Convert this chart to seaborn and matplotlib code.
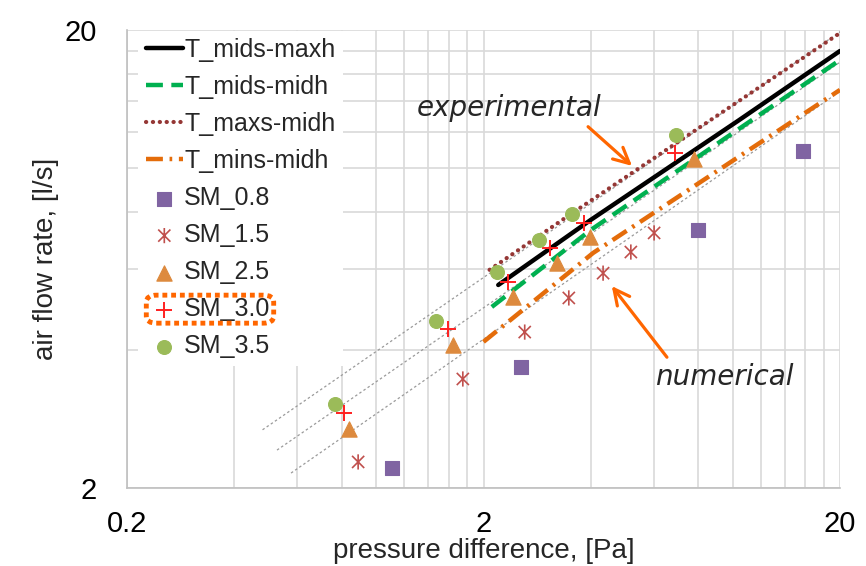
import matplotlib
matplotlib.use("Agg")
import matplotlib.pyplot as plt
import seaborn as sns
import pandas as pd
from matplotlib.path import Path
from matplotlib.markers import MarkerStyle
from matplotlib.patches import FancyBboxPatch
from matplotlib.ticker import FixedLocator, FixedFormatter, NullFormatter

# ---------------- data ----------------
t_mids_maxh_x = [2.2, 4.0, 10.4, 20.0]
t_mids_maxh_y = [5.55, 7.7, 12.7, 18.0]
t_mids_midh_x = [2.11, 4.0, 20.0]
t_mids_midh_y = [4.97, 7.32, 17.2]
t_maxs_midh_x = [2.08, 3.56, 20.0]
t_maxs_midh_y = [5.99, 7.98, 19.7]
t_mins_midh_x = [2.0, 4.06, 20.0]
t_mins_midh_y = [4.17, 6.52, 14.8]

sm08_x = [1.11, 2.55, 7.99, 15.7]
sm08_y = [2.21, 3.67, 7.32, 10.88]
sm15_x = [0.89, 1.75, 2.61, 3.47, 4.33, 5.18, 6.02]
sm15_y = [2.28, 3.46, 4.38, 5.2, 5.89, 6.55, 7.21]
sm25_x = [0.84, 1.64, 2.42, 3.21, 3.98, 7.79]
sm25_y = [2.69, 4.1, 5.22, 6.2, 7.07, 10.46]
sm30_x = [0.81, 1.59, 2.34, 3.07, 3.83, 6.9]
sm30_y = [2.92, 4.45, 5.64, 6.68, 7.58, 10.78]
sm35_x = [0.766, 1.47, 2.18, 2.86, 3.54, 6.94]
sm35_y = [3.05, 4.63, 5.92, 6.96, 7.93, 11.8]

ref1_x = [0.48, 21.3]
ref1_y = [2.68, 20.5]
ref2_x = [0.527, 21.3]
ref2_y = [2.42, 17.6]
ref3_x = [0.577, 21.3]
ref3_y = [2.156, 15.2]

x_major = [0.2, 2, 20]
x_major_labels = ["0.2", "2", "20"]
x_minor = [0.4, 0.6, 0.8, 1.0, 1.2, 1.4, 1.6, 1.8, 4, 6, 8, 10, 12, 14, 16, 18]
y_major = [2, 20]
y_major_labels = ["2", "20"]
y_minor = [4, 6, 8, 10, 12, 14, 16, 18]

# ---------------- style ----------------
sns.set_theme(style="white")
plt.rcParams["font.family"] = ["Liberation Sans", "DejaVu Sans"]

fig = plt.figure(figsize=(8.66, 5.66), dpi=100)
ax = fig.add_axes([127 / 866, 1 - 488 / 566, (840 - 127) / 866, (488 - 30) / 566])
ax.set_xscale("log")
ax.set_yscale("log")
ax.set_xlim(0.2, 20)
ax.set_ylim(2, 20)
ax.set_axisbelow(True)

# grid
grid_col = "#d9d9d9"
for v in x_minor + x_major:
    ax.axvline(v, color=grid_col, lw=1.2, zorder=0)
for v in y_minor + y_major:
    ax.axhline(v, color=grid_col, lw=1.2, zorder=0)

# reference (fit) lines
for rx, ry in [(ref1_x, ref1_y), (ref2_x, ref2_y), (ref3_x, ref3_y)]:
    sns.lineplot(x=rx, y=ry, ax=ax, color="#9a9a9a", lw=0.9,
                 linestyle=(0, (2, 2)), sort=False, estimator=None, zorder=1)

# model lines
sns.lineplot(x=t_mids_maxh_x, y=t_mids_maxh_y, ax=ax, color="black", lw=3.2,
             sort=False, estimator=None, label="T_mids-maxh", zorder=3)
sns.lineplot(x=t_mids_midh_x, y=t_mids_midh_y, ax=ax, color="#00b050", lw=3.2,
             linestyle=(0, (3.8, 1.9)), sort=False, estimator=None,
             label="T_mids-midh", zorder=3)
sns.lineplot(x=t_maxs_midh_x, y=t_maxs_midh_y, ax=ax, color="#953735", lw=3.0,
             linestyle=(0, (0.05, 1.6)), dash_capstyle="round", sort=False,
             estimator=None, label="T_maxs-midh", zorder=3)
sns.lineplot(x=t_mins_midh_x, y=t_mins_midh_y, ax=ax, color="#e46c0a", lw=3.2,
             linestyle=(0, (3.8, 1.5, 0.6, 1.5)), sort=False, estimator=None,
             label="T_mins-midh", zorder=3)

# markers
star_path = Path([(-1, -1), (1, 1), (-1, 1), (1, -1), (0, -1.25), (0, 1.25)],
                 [Path.MOVETO, Path.LINETO, Path.MOVETO, Path.LINETO,
                  Path.MOVETO, Path.LINETO])
star_marker = MarkerStyle(star_path, fillstyle="none")

sns.scatterplot(x=sm08_x, y=sm08_y, ax=ax, marker="s", color="#8064a2",
                edgecolor="#8064a2", s=95, label="SM_0.8", zorder=4)
sns.scatterplot(x=sm15_x, y=sm15_y, ax=ax, marker=star_marker, color="#c0504d",
                s=120, linewidth=1.2, label="SM_1.5", zorder=4)
sns.scatterplot(x=sm25_x, y=sm25_y, ax=ax, marker="^", color="#dd8a3e",
                edgecolor="#dd8a3e", s=120, label="SM_2.5", zorder=4)
sns.scatterplot(x=sm30_x, y=sm30_y, ax=ax, marker="+", color="#ff2020",
                s=130, linewidth=1.4, label="SM_3.0", zorder=4)
sns.scatterplot(x=sm35_x, y=sm35_y, ax=ax, marker="o", color="#9bbb59",
                edgecolor="#9bbb59", s=100, label="SM_3.5", zorder=4)

# ticks
ax.xaxis.set_major_locator(FixedLocator(x_major))
ax.xaxis.set_major_formatter(FixedFormatter(x_major_labels))
ax.xaxis.set_minor_locator(FixedLocator(x_minor))
ax.xaxis.set_minor_formatter(NullFormatter())
ax.yaxis.set_major_locator(FixedLocator(y_major))
ax.yaxis.set_major_formatter(FixedFormatter(y_major_labels))
ax.yaxis.set_minor_locator(FixedLocator(y_minor))
ax.yaxis.set_minor_formatter(NullFormatter())
ax.tick_params(axis="both", which="major", direction="out", length=6, width=1,
               color="#bfbfbf", labelsize=21, labelcolor="black")
ax.tick_params(axis="x", which="major", pad=10)
ax.tick_params(axis="y", which="major", pad=16)
ax.tick_params(axis="y", which="minor", direction="in", length=6, width=1,
               color="#bfbfbf")
ax.tick_params(axis="x", which="minor", length=0)

for side in ["top", "right"]:
    ax.spines[side].set_visible(False)
for side in ["left", "bottom"]:
    ax.spines[side].set_color("#bfbfbf")
    ax.spines[side].set_linewidth(1.2)

ax.set_xlabel("pressure difference, [Pa]", fontsize=20, labelpad=0)
ax.set_ylabel("air flow rate, [l/s]", fontsize=20, labelpad=4)

# annotations
ann_font = ["DejaVu Sans"]
ax.text(1.30, 13.5, "experimental", fontsize=20, style="italic",
        family=ann_font, va="center", ha="left", zorder=6)
ax.text(6.06, 3.49, "numerical", fontsize=20, style="italic",
        family=ann_font, va="center", ha="left", zorder=6)
arrow_kw = dict(arrowstyle="->", color="#ff6600", lw=2.3, mutation_scale=28,
                shrinkA=0, shrinkB=0)
ax.annotate("", xy=(5.22, 10.1), xytext=(3.93, 12.3), arrowprops=arrow_kw, zorder=6)
ax.annotate("", xy=(4.58, 5.52), xytext=(6.54, 3.86), arrowprops=arrow_kw, zorder=6)

# legend
handles, labels = ax.get_legend_handles_labels()
order = ["T_mids-maxh", "T_mids-midh", "T_maxs-midh", "T_mins-midh",
         "SM_0.8", "SM_1.5", "SM_2.5", "SM_3.0", "SM_3.5"]
hmap = dict(zip(labels, handles))
leg = ax.legend([hmap[k] for k in order], order, loc="upper left",
                bbox_to_anchor=(0.012, 1.004), fontsize=18, frameon=True,
                facecolor="white", edgecolor="none", framealpha=1,
                fancybox=False, handlelength=1.5, handletextpad=0.05,
                labelspacing=0.52, borderpad=0.3, borderaxespad=0.1)
leg.set_zorder(5)

# highlight box around SM_3.0
fig.canvas.draw()
txt = leg.get_texts()[7]
bb = txt.get_window_extent(fig.canvas.get_renderer())
x0 = bb.x0 - 38
x1 = bb.x1 + 3
yc = (bb.y0 + bb.y1) / 2
y0 = yc - 14
y1 = yc + 14
W, H = fig.bbox.width, fig.bbox.height
box = FancyBboxPatch((x0 / W, y0 / H), (x1 - x0) / W, (y1 - y0) / H,
                     boxstyle="round,pad=0,rounding_size=0.012",
                     transform=fig.transFigure, facecolor="none",
                     edgecolor="#ff6600", lw=3.5, linestyle=(0, (1, 0.8)),
                     zorder=10)
fig.patches.append(box)

fig.savefig("out.png", dpi=100)
